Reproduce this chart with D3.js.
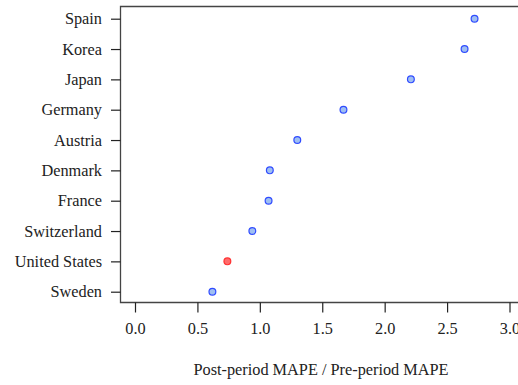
<!DOCTYPE html>
<html>
<head>
<meta charset="utf-8">
<script src="https://cdn.jsdelivr.net/npm/d3@7"></script>
<style>
  html, body { margin: 0; padding: 0; background: #fff; }
  svg text { font-family: "Liberation Serif", "DejaVu Serif", serif; fill: #222; }
</style>
</head>
<body>
<svg id="chart" width="518" height="385"></svg>
<script>
// Countries, top to bottom
const countries = ["Spain", "Korea", "Japan", "Germany", "Austria", "Denmark",
                   "France", "Switzerland", "United States", "Sweden"];
// Ratio of post-period MAPE to pre-period MAPE
const mapeRatio = [2.72, 2.64, 2.21, 1.67, 1.30, 1.08, 1.07, 0.94, 0.74, 0.62];
// Which country is highlighted
const highlighted = ["United States"];
const xTicks = [0, 0.5, 1.0, 1.5, 2.0, 2.5, 3.0];
const xTitle = "Post-period MAPE / Pre-period MAPE";

const svg = d3.select("#chart");
const frame = { left: 120.5, top: 6.5, bottom: 302.5, right: 540 };
const fontSize = 16.3;

const x = d3.scaleLinear().domain([0, 3]).range([135, 509.5]);
const y = d3.scalePoint().domain(countries).range([18.7, 291.7]);

// Plot frame: top, left and bottom edges
svg.append("path")
  .attr("d", `M${frame.right},${frame.top}H${frame.left}V${frame.bottom}H${frame.right}`)
  .attr("fill", "none").attr("stroke", "#444").attr("stroke-width", 1.3);

// Y axis: country labels
const yAxis = svg.append("g")
  .attr("transform", `translate(${frame.left},0)`)
  .call(d3.axisLeft(y).tickSize(9.5).tickPadding(9));
yAxis.select(".domain").remove();
yAxis.selectAll("line").attr("stroke", "#222").attr("stroke-width", 1.2);
yAxis.selectAll("text").attr("font-size", fontSize).attr("fill", "#222")
  .style("font-family", "'Liberation Serif', serif");

// X axis ticks
const xAxis = svg.append("g")
  .attr("transform", `translate(0,${frame.bottom})`)
  .call(d3.axisBottom(x).tickValues(xTicks).tickFormat(d3.format(".1f"))
        .tickSize(10).tickPadding(10));
xAxis.select(".domain").remove();
xAxis.selectAll("line").attr("stroke", "#222").attr("stroke-width", 1.2);
xAxis.selectAll("text").attr("font-size", fontSize).attr("fill", "#222")
  .style("font-family", "'Liberation Serif', serif");

// Axis title
svg.append("text")
  .attr("x", 321).attr("y", 375)
  .attr("text-anchor", "middle")
  .attr("font-size", fontSize)
  .text(xTitle);

// Points
const data = countries.map((c, i) => ({ country: c, value: mapeRatio[i] }));
svg.append("g").selectAll("circle")
  .data(data)
  .join("circle")
  .attr("cx", d => x(d.value))
  .attr("cy", d => y(d.country))
  .attr("r", 3.4)
  .attr("fill", d => highlighted.includes(d.country) ? "#ff6b6b" : "#9fbff2")
  .attr("stroke", d => highlighted.includes(d.country) ? "#ff3030" : "#2f4bff")
  .attr("stroke-width", 1.2);
</script>
</body>
</html>
